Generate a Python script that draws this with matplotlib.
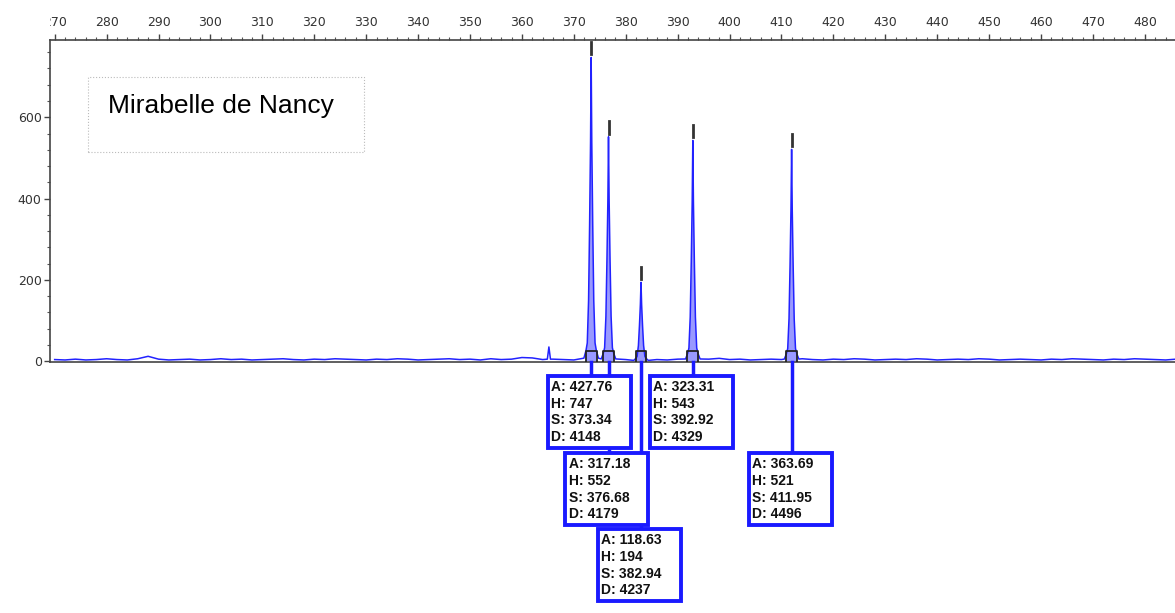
import numpy as np
import matplotlib.pyplot as plt
from matplotlib.patches import Rectangle
from matplotlib.ticker import MultipleLocator
from matplotlib.transforms import blended_transform_factory, Bbox, TransformedBbox

plt.rcParams['font.family'] = ['Liberation Sans', 'DejaVu Sans']

# called peaks
peak_size = [373.34, 376.68, 382.94, 392.92, 411.95]
peak_height = [747, 552, 194, 543, 521]
peak_area = [427.76, 317.18, 118.63, 323.31, 363.69]
peak_point = [4148, 4179, 4237, 4329, 4496]
box_row = [0, 1, 2, 0, 1]

# peak outline around the apex: offset in bp, fraction of apex height
profile_offset = [-1.4, -1.0, -0.75, -0.5, -0.3, -0.12, 0.0, 0.12, 0.3, 0.5, 0.75, 1.0, 1.4]
profile_frac = [0.01, 0.035, 0.06, 0.2, 0.45, 0.72, 1.0, 0.72, 0.45, 0.2, 0.06, 0.035, 0.01]

# baseline signal, one reading every 2 bp from 270 to 486
base_size = np.arange(270, 487, 2)
base_rfu = [4, 3, 5, 3, 4, 6, 4, 3, 6, 12,
            5, 3, 4, 5, 3, 4, 6, 4, 5, 3,
            4, 5, 6, 4, 3, 5, 4, 6, 5, 4,
            3, 5, 4, 6, 5, 3, 4, 5, 6, 4,
            5, 3, 6, 4, 5, 9, 8, 4, 5, 4,
            3, 5, 4, 5, 6, 4, 5, 6, 4, 3,
            5, 4, 6, 5, 7, 4, 5, 3, 4, 5,
            4, 5, 6, 4, 3, 5, 4, 6, 5, 3,
            4, 5, 4, 6, 5, 3, 4, 5, 4, 6,
            5, 3, 4, 5, 4, 3, 5, 4, 6, 5,
            4, 3, 5, 4, 6, 5, 4, 3, 5]

# uncalled spike before the first peak
spike_size = [364.9, 365.2, 365.5]
spike_rfu = [5, 35, 5]

# assemble the trace
size = list(spike_size)
rfu = list(spike_rfu)
for s, r in zip(base_size, base_rfu):
    if all(abs(s - p) > 1.4 for p in peak_size) and abs(s - 365.2) > 0.4:
        size.append(s)
        rfu.append(r)
for p, h in zip(peak_size, peak_height):
    for o, f in zip(profile_offset, profile_frac):
        size.append(p + o)
        rfu.append(h * f)
order = np.argsort(size)
size = np.array(size)[order]
rfu = np.array(rfu)[order]

fig = plt.figure(figsize=(11.75, 6.13), dpi=100)
ax_left, ax_bottom, ax_top = 50 / 1175, 1 - 362 / 613, 1 - 40 / 613
ax = fig.add_axes([ax_left, ax_bottom, 1 - ax_left, ax_top - ax_bottom])

ax.plot(size, rfu, color='#2222ff', lw=1.1, zorder=3)
in_peak = np.zeros(len(size), dtype=bool)
for p in peak_size:
    in_peak |= np.abs(size - p) <= 1.05
ax.fill_between(size, rfu, 0, where=in_peak, color='#5555ff', alpha=0.6,
                lw=0, zorder=2)

for p, h in zip(peak_size, peak_height):
    ax.plot([p, p], [h + 8, h + 38], color='#333333', lw=2, zorder=4)
    ax.plot([p - 1.05, p - 1.05, p + 1.05, p + 1.05], [-2, 26, 26, -2],
            color='#222222', lw=1.3, zorder=4)

ax.set_xlim(269.1, 485.8)
ax.set_ylim(-2, 790)
ax.xaxis.tick_top()
ax.set_xticks(np.arange(270, 481, 10))
ax.xaxis.set_minor_locator(MultipleLocator(2))
ax.set_yticks([0, 200, 400, 600])
ax.yaxis.set_minor_locator(MultipleLocator(40))
ax.tick_params(axis='both', which='major', direction='out', length=4,
               width=1, color='#444444', labelsize=9, labelcolor='#333333',
               labelfontfamily='DejaVu Sans')
ax.tick_params(axis='x', which='major', pad=4)
ax.tick_params(axis='y', which='major', pad=2)
ax.tick_params(axis='both', which='minor', direction='out', length=2,
               width=0.8, color='#555555')
ax.spines['right'].set_visible(False)
for side in ['top', 'left', 'bottom']:
    ax.spines[side].set_color('#444444')
    ax.spines[side].set_linewidth(1.2)

# labels that stick out past the left edge get cut off
clip = TransformedBbox(Bbox([[ax_left, 0], [1, 1]]), fig.transFigure)
for lbl in ax.get_xticklabels():
    lbl.set_clip_box(clip)
    lbl.set_clip_on(True)

# sample name
fig.patches.append(Rectangle((88 / 1175, 1 - 152 / 613), 276 / 1175, 75 / 613,
                             transform=fig.transFigure, fill=False,
                             ec='#bbbbbb', lw=0.8, ls=':'))
fig.text(108 / 1175, 1 - 106 / 613, 'Mirabelle de Nancy', fontsize=19,
         color='black', va='center', ha='left')

# peak annotation boxes below the axis
tr = blended_transform_factory(ax.transData, fig.transFigure)
row_top = [1 - 376 / 613, 1 - 453 / 613, 1 - 529 / 613]
box_w = 16.0
box_h = 72 / 613
for p, h, a, d, r in zip(peak_size, peak_height, peak_area, peak_point, box_row):
    top = row_top[r]
    ax.plot([p, p], [ax_bottom, top], transform=tr, clip_on=False,
            color='#1a1aff', lw=2.5, zorder=5)
    ax.add_patch(Rectangle((p - box_w / 2 - 0.3, top - box_h), box_w, box_h,
                           transform=tr, clip_on=False, fc='white',
                           ec='#1a1aff', lw=2.8, zorder=6))
    txt = f'A: {a:.2f}\nH: {h}\nS: {p:.2f}\nD: {d}'
    ax.text(p - box_w / 2 + 0.3, top - 4 / 613, txt, transform=tr,
            fontsize=10, fontweight='bold', color='#111111', va='top',
            ha='left', linespacing=1.25, zorder=7, clip_on=False)

fig.savefig('out.png', dpi=100)
